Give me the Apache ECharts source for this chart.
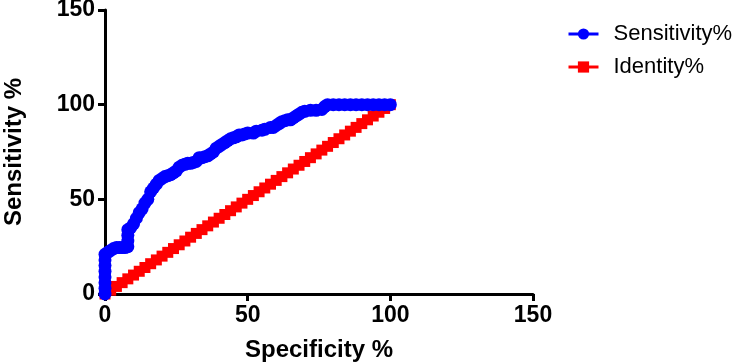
<!DOCTYPE html>
<html>
<head>
<meta charset="utf-8">
<script src="https://cdn.jsdelivr.net/npm/echarts@6/dist/echarts.min.js"></script>
<style>
html,body{margin:0;padding:0;background:#fff;}
#chart{width:734px;height:363px;}
</style>
</head>
<body>
<div id="chart"></div>
<script>
// Tick labels
const axisTicks = [0, 50, 100, 150];
// Sensitivity% series: specificity % (x) values
const sensX = [0,0,0,0,0,0,0,0,1,2,3,4,5,6,7,8,8,8,8,9,10,11,12,13,14,15,16,17,18,19,20,21,22,23,24,25,26,27,28,29,30,31,32,33,34,35,36,37,38,39,40,41,42,43,44,45,46,47,48,49,50,52,53,55,56,58,59,60,61,62,63,64,65,66,67,68,69,70,72,74,76,77,78,80,82,84,86,88,90,92,94,96,98,100];
// Sensitivity% series: sensitivity % (y) values
const sensY = [0,3,6,9,12,15,18,21,22,23,24,24.5,24.5,24.5,24.5,25,28,31,34,35,37,40,43,45,48,50,54,56,58,60,61,62,62.5,63,64,65,67,68,68.5,69,69,69.5,70,72,72,72.5,73,74,75,77,78,79,80,81,82,82.5,83,84,84,84.5,85,85,86,86.5,87,88,88,89,90,91,91.5,92,92,93,94,95,96,96.5,97,97,97.5,99,100,100,100,100,100,100,100,100,100,100,100,100];
// Identity% series values
const identX = [0,2,4,6,8,10,12,14,16,18,20,22,24,26,28,30,32,34,36,38,40,42,44,46,48,50,52,54,56,58,60,62,64,66,68,70,72,74,76,78,80,82,84,86,88,90,92,94,96,98,100];
const identY = [0,2,4,6,8,10,12,14,16,18,20,22,24,26,28,30,32,34,36,38,40,42,44,46,48,50,52,54,56,58,60,62,64,66,68,70,72,74,76,78,80,82,84,86,88,90,92,94,96,98,100];

const FONT = 'Liberation Sans, Arial, sans-serif';
const sensData = sensX.map((x, i) => [x, sensY[i]]);
const identData = identX.map((x, i) => [x, identY[i]]);

const axisCommon = {
  type: 'value',
  min: axisTicks[0],
  max: axisTicks[axisTicks.length - 1],
  interval: 50,
  splitLine: { show: false },
  axisLine: { show: true, lineStyle: { color: '#000', width: 3 } },
  axisTick: { show: true, length: 7, lineStyle: { color: '#000', width: 3 } },
  axisLabel: { color: '#000', fontWeight: 'bold', fontSize: 23, fontFamily: FONT },
  nameTextStyle: { color: '#000', fontWeight: 'bold', fontSize: 24, fontFamily: FONT },
  nameLocation: 'middle'
};

const chart = echarts.init(document.getElementById('chart'), null, { renderer: 'canvas' });
chart.setOption({
  animation: false,
  backgroundColor: '#fff',
  grid: { left: 105, right: 201, top: 10, bottom: 69, containLabel: false, outerBoundsMode: 'none' },
  xAxis: Object.assign({}, axisCommon, {
    name: 'Specificity %',
    nameGap: 44,
    axisLabel: Object.assign({}, axisCommon.axisLabel, { margin: 10 })
  }),
  yAxis: Object.assign({}, axisCommon, {
    name: 'Sensitivity %',
    nameGap: 79,
    axisLabel: Object.assign({}, axisCommon.axisLabel, { margin: 10 })
  }),
  legend: {
    orient: 'vertical',
    left: 562,
    top: 18,
    itemWidth: 30,
    itemHeight: 14,
    itemGap: 11,
    lineStyle: { width: 3 },
    textStyle: { color: '#000', fontSize: 22, fontFamily: FONT, lineHeight: 22, padding: [0, 0, 0, 10] },
    data: ['Sensitivity%', 'Identity%']
  },
  series: [
    {
      name: 'Sensitivity%',
      type: 'line',
      data: sensData,
      z: 4,
      clip: false,
      symbol: 'circle',
      symbolSize: 13,
      showAllSymbol: true,
      color: '#0000FF',
      itemStyle: { color: '#0000FF' },
      lineStyle: { color: '#0000FF', width: 3 }
    },
    {
      name: 'Identity%',
      type: 'line',
      data: identData,
      z: 3,
      clip: false,
      symbol: 'rect',
      symbolSize: 11,
      showAllSymbol: true,
      color: '#FF0000',
      itemStyle: { color: '#FF0000' },
      lineStyle: { color: '#FF0000', width: 3 }
    }
  ]
});
</script>
</body>
</html>
